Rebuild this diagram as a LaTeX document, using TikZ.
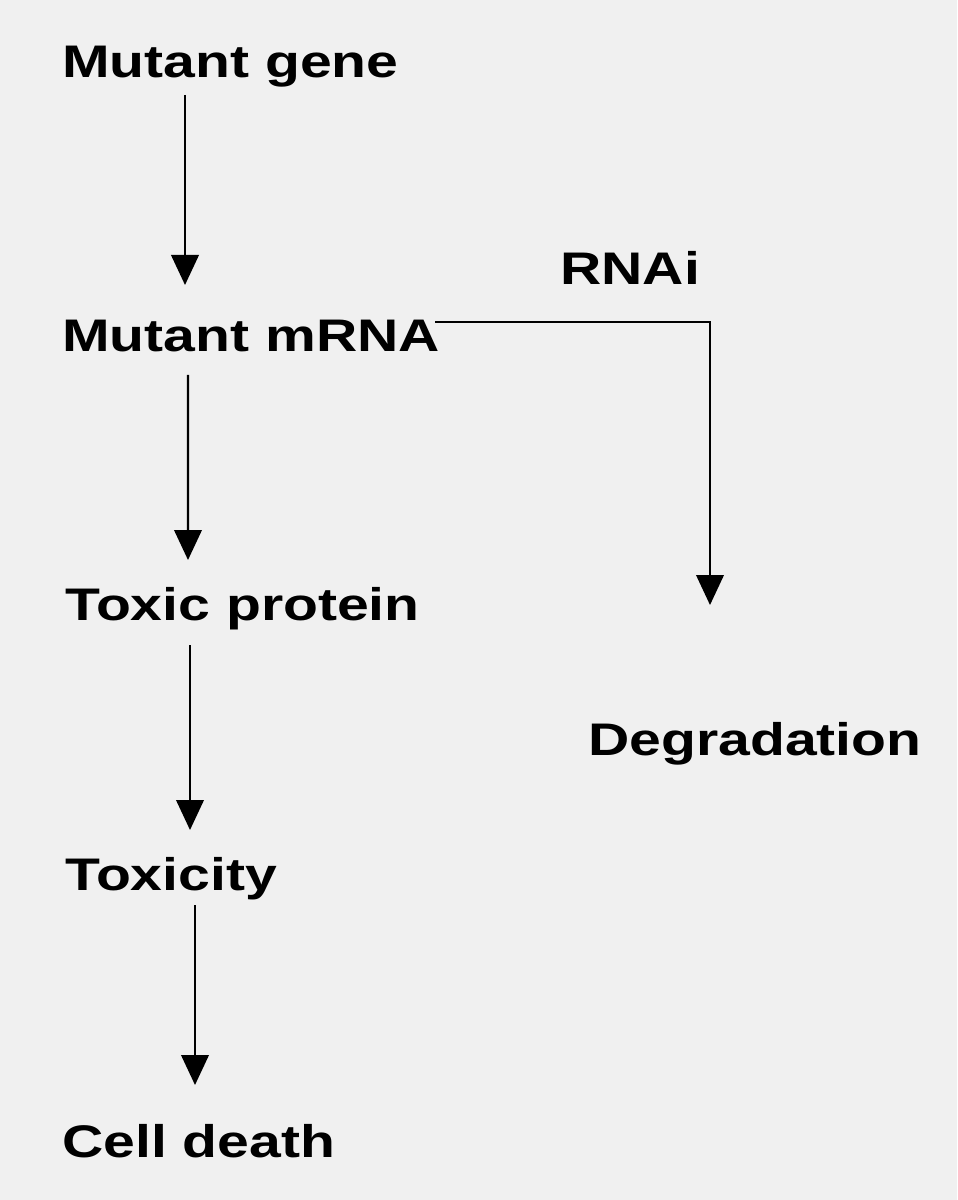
\documentclass[tikz,border=0pt]{standalone}
\usepackage{fontspec}
\setmainfont{Liberation Sans}
\usetikzlibrary{arrows.meta}
\newcommand{\wide}[1]{\scalebox{1.25}[1]{#1}}
\tikzset{
	step label/.style={anchor=base west, inner sep=0pt, font=\fontsize{26}{30}\selectfont\bfseries},
	arr/.style={line width=1.3pt, -{Triangle[length=0.6cm, width=0.55cm]}}
}
\begin{document}
\begin{tikzpicture}
	% 957 x 1200 px at 0.02 cm per px
	\fill[black!6] (0,0) rectangle (19.14,-24);
	\useasboundingbox (0,0) rectangle (19.14,-24);
	% labels
	\node[step label] (gene) at (1.24,-1.56) {\wide{Mutant gene}};
	\node[step label] (mrna) at (1.24,-7.04) {\wide{Mutant mRNA}};
	\node[step label] (toxic) at (1.30,-12.40) {\wide{Toxic protein}};
	\node[step label] (toxicity) at (1.30,-17.80) {\wide{Toxicity}};
	\node[step label] (death) at (1.24,-23.14) {\wide{Cell death}};
	\node[step label] (rnai) at (11.20,-5.70) {\wide{RNAi}};
	\node[step label] (deg) at (11.76,-15.10) {\wide{Degradation}};
	% main pathway
	\draw[arr] ([shift={(2.46,-0.34)}]gene.base west) -- ([shift={(2.46,1.34)}]mrna.base west);
	\draw[arr] ([shift={(2.52,-0.46)}]mrna.base west) -- ([shift={(2.46,1.2)}]toxic.base west);
	\draw[arr] ([shift={(2.5,-0.5)}]toxic.base west) -- ([shift={(2.5,1.2)}]toxicity.base west);
	\draw[arr] ([shift={(2.6,-0.3)}]toxicity.base west) -- ([shift={(2.66,1.44)}]death.base west);
	% RNAi branch
	\draw[arr] ([shift={(7.46,0.6)}]mrna.base west) -| ([shift={(2.44,3.0)}]deg.base west);
\end{tikzpicture}
\end{document}
